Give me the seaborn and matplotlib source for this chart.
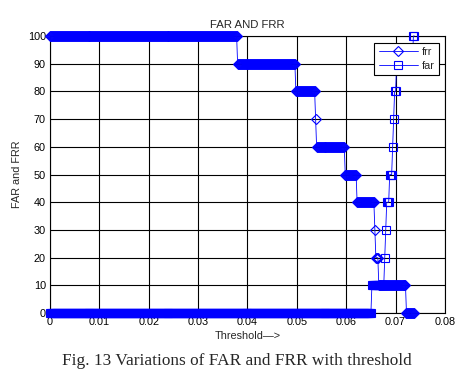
import matplotlib
matplotlib.use("Agg")
import matplotlib.pyplot as plt
import seaborn as sns
import numpy as np

# threshold sweep step
step = 0.0002

# FRR and FAR (%) stored as runs: level, and number of threshold steps it holds
frr_levels = [100, 90, 80, 70, 60, 50, 40, 30, 20, 10, 0]
frr_counts = [190, 59, 20, 1, 29, 12, 18, 1, 3, 28, 9]
far_levels = [0, 10, 20, 30, 40, 50, 60, 70, 80, 90, 100]
far_counts = [326, 13, 1, 1, 3, 3, 1, 1, 2, 17, 2]

xticks = [0, 0.01, 0.02, 0.03, 0.04, 0.05, 0.06, 0.07, 0.08]
xticklabels = ['0', '0.01', '0.02', '0.03', '0.04', '0.05', '0.06', '0.07', '0.08']
yticks = [0, 10, 20, 30, 40, 50, 60, 70, 80, 90, 100]

frr = np.repeat(frr_levels, frr_counts)
far = np.repeat(far_levels, far_counts)
threshold = np.arange(len(frr)) * step

sns.set_style("white")
plt.rcParams['font.family'] = ['Liberation Sans', 'DejaVu Sans']

fig = plt.figure(figsize=(4.57, 3.79), dpi=100)
ax = fig.add_axes([0.1094, 0.174, 0.8643, 0.731])

line_kw = dict(color='blue', linewidth=0.6, markerfacecolor='none', markeredgecolor='blue',
               markeredgewidth=0.8, clip_on=False, estimator=None, zorder=3)
sns.lineplot(x=threshold, y=frr, ax=ax, marker='D', markersize=5, label='frr', **line_kw)
sns.lineplot(x=threshold, y=far, ax=ax, marker='s', markersize=5.5, label='far', **line_kw)

ax.set_xlim(0, 0.08)
ax.set_ylim(0, 100)
ax.set_xticks(xticks)
ax.set_xticklabels(xticklabels)
ax.set_yticks(yticks)
ax.grid(True, color='black', linewidth=0.8, linestyle='-')
ax.set_axisbelow(True)
for s in ax.spines.values():
    s.set_color('black')
    s.set_linewidth(0.8)
ax.tick_params(length=0, labelsize=7.8, pad=3, colors='black')

ax.set_title('FAR AND FRR', fontsize=8.2, pad=5.5)
ax.set_xlabel('Threshold—>', fontsize=7.8, labelpad=3)
ax.set_ylabel('FAR and FRR', fontsize=7.8, labelpad=4)

leg = ax.legend(loc='upper right', bbox_to_anchor=(0.985, 0.975), borderaxespad=0,
                fancybox=False, edgecolor='black', framealpha=1, fontsize=7.8,
                handlelength=3.6, handletextpad=0.4, labelspacing=0.35, borderpad=0.4)
leg.get_frame().set_linewidth(0.8)
leg.set_zorder(5)

fig.text(0.5186, 0.037, 'Fig. 13 Variations of FAR and FRR with threshold',
         family=['Liberation Serif', 'DejaVu Serif'], fontsize=12.4, ha='center', va='baseline')

fig.savefig('out.png', dpi=100)
